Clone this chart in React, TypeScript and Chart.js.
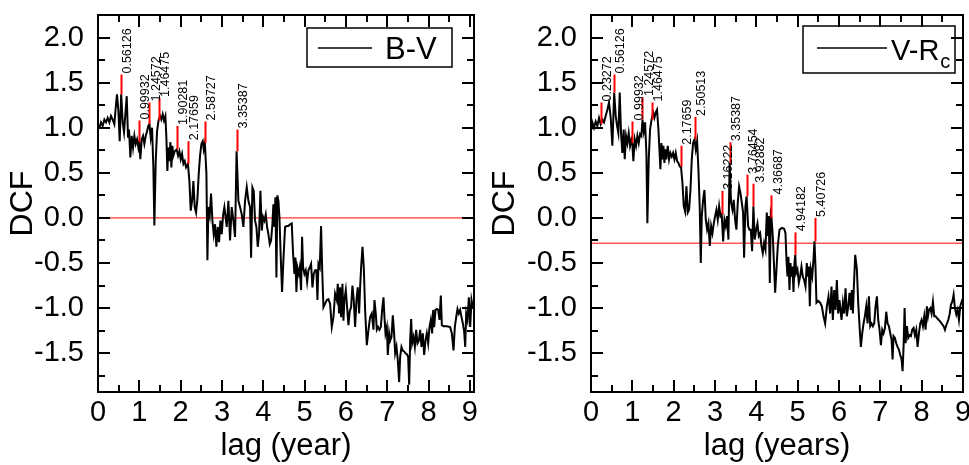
import React, { useEffect, useRef } from "react";
import { Chart, registerables } from "chart.js";
Chart.register(...registerables);

const FONT = "'Liberation Sans', Arial, Helvetica, sans-serif";

// ---------- Left panel: B-V ----------
const lagBV = [
  0.033, 0.073, 0.113, 0.154, 0.194, 0.234, 0.275, 0.315, 0.355, 0.396, 0.436, 0.46, 0.493, 0.525, 0.561, 0.598,
  0.63, 0.662, 0.695, 0.727, 0.751, 0.783, 0.816, 0.848, 0.88, 0.912, 0.945, 0.977, 0.999, 1.025, 1.058, 1.09,
  1.122, 1.155, 1.187, 1.219, 1.246, 1.276, 1.308, 1.34, 1.364, 1.397, 1.429, 1.465, 1.502, 1.534, 1.566, 1.598,
  1.631, 1.655, 1.679, 1.703, 1.728, 1.752, 1.776, 1.8, 1.824, 1.857, 1.903, 1.938, 1.97, 2.002, 2.034, 2.067,
  2.099, 2.131, 2.177, 2.212, 2.244, 2.277, 2.309, 2.341, 2.373, 2.406, 2.438, 2.47, 2.502, 2.535, 2.559, 2.587,
  2.624, 2.648, 2.672, 2.704, 2.736, 2.769, 2.801, 2.833, 2.865, 2.898, 2.93, 2.962, 2.995, 3.027, 3.059, 3.115,
  3.156, 3.196, 3.236, 3.277, 3.317, 3.354, 3.398, 3.438, 3.479, 3.519, 3.559, 3.6, 3.64, 3.68, 3.705, 3.737,
  3.769, 3.801, 3.834, 3.866, 3.898, 3.931, 3.963, 3.995, 4.027, 4.06, 4.092, 4.124, 4.157, 4.189, 4.221, 4.245,
  4.269, 4.294, 4.318, 4.342, 4.366, 4.391, 4.423, 4.455, 4.487, 4.528, 4.568, 4.608, 4.649, 4.689, 4.722, 4.754,
  4.778, 4.802, 4.826, 4.859, 4.883, 4.915, 4.939, 4.964, 4.996, 5.028, 5.061, 5.093, 5.125, 5.157, 5.19, 5.222,
  5.254, 5.286, 5.311, 5.335, 5.367, 5.399, 5.424, 5.456, 5.496, 5.537, 5.577, 5.617, 5.658, 5.698, 5.738, 5.779,
  5.803, 5.835, 5.86, 5.884, 5.916, 5.94, 5.964, 5.997, 6.029, 6.061, 6.094, 6.126, 6.158, 6.19, 6.223, 6.255,
  6.287, 6.32, 6.344, 6.368, 6.401, 6.433, 6.465, 6.506, 6.546, 6.586, 6.627, 6.667, 6.691, 6.723, 6.748, 6.78,
  6.812, 6.845, 6.877, 6.909, 6.933, 6.958, 6.99, 7.014, 7.046, 7.071, 7.103, 7.135, 7.167, 7.192, 7.224, 7.256,
  7.288, 7.313, 7.345, 7.377, 7.41, 7.442, 7.474, 7.506, 7.531, 7.555, 7.579, 7.603, 7.636, 7.668, 7.7, 7.732,
  7.765, 7.797, 7.829, 7.861, 7.894, 7.926, 7.958, 7.991, 8.023, 8.055, 8.087, 8.112, 8.136, 8.168, 8.2, 8.233,
  8.265, 8.297, 8.322, 8.362, 8.443, 8.523, 8.564, 8.604, 8.636, 8.669, 8.701, 8.733, 8.765, 8.798, 8.83, 8.862,
  8.887, 8.911, 8.943, 8.975, 9.008, 9.04, 9.072,
];
const dcfBV = [
  1.0, 1.06, 1.02, 1.09, 1.06, 1.11, 1.06, 1.13, 1.09, 1.04, 1.26, 1.37, 1.19, 0.85, 1.37, 1.06,
  0.95, 1.15, 1.35, 0.89, 0.98, 0.67, 0.91, 0.78, 0.91, 0.82, 0.87, 0.78, 0.84, 0.65, 0.87, 0.91,
  0.82, 0.91, 0.96, 1.02, 1.04, 0.89, 1.0, 0.56, -0.085, 0.63, 0.96, 1.08, 1.13, 1.09, 1.15, 1.08,
  1.13, 0.89, 0.52, 0.78, 0.63, 0.84, 0.56, 0.8, 0.69, 0.74, 0.76, 0.69, 0.74, 0.65, 0.71, 0.6,
  0.63, 0.56, 0.6, 0.41, 0.08, 0.19, 0.41, 0.12, 0.06, 0.21, 0.49, 0.69, 0.82, 0.85, 0.76, 0.83,
  0.49, -0.47, 0.12, 0.03, 0.27, -0.03, -0.18, -0.07, -0.32, -0.1, -0.27, -0.03, -0.18, 0.03, 0.12, -0.1,
  0.19, -0.25, 0.12, -0.03, -0.21, 0.74, 0.19, 0.12, 0.04, -0.1, 0.19, 0.34, 0.19, 0.12, -0.44, 0.34,
  0.3, -0.03, -0.1, -0.32, -0.18, 0.3, -0.14, 0.01, -0.03, 0.04, -0.1, -0.18, -0.29, -0.25, -0.07, 0.15,
  -0.1, 0.23, -0.66, 0.25, 0.19, 0.01, -0.44, -0.82, -0.47, -0.1, -0.09, -0.09, -0.07, -0.06, -0.4, -0.62,
  -0.44, -0.82, -0.55, -0.62, -0.55, -0.8, -0.21, -0.55, -0.62, -0.58, -0.71, -0.58, -0.55, -0.51, -0.77, -0.62,
  -0.58, -0.58, -0.91, -0.51, -0.55, -0.09, -0.55, -0.99, -0.95, -0.91, -0.9, -0.95, -1.21, -1.1, -0.84, -0.91,
  -0.73, -1.06, -0.77, -1.1, -0.73, -1.14, -0.91, -0.8, -0.99, -1.19, -1.03, -0.99, -0.75, -0.91, -1.21, -0.91,
  -0.77, -1.06, -0.77, -0.55, -0.32, -0.55, -1.02, -1.41, -1.24, -1.1, -1.06, -1.24, -0.91, -1.06, -1.24, -1.21,
  -1.24, -1.21, -1.02, -0.88, -1.1, -1.28, -1.21, -1.52, -1.28, -1.36, -1.32, -1.08, -1.28, -1.5, -1.43, -1.58,
  -1.82, -1.54, -1.43, -1.47, -1.48, -1.5, -1.51, -1.54, -1.85, -1.36, -1.12, -1.39, -1.32, -1.43, -1.24, -1.39,
  -1.36, -1.24, -1.43, -1.28, -1.52, -1.36, -1.28, -1.39, -1.21, -1.13, -1.28, -1.02, -1.21, -1.02, -1.01, -1.02,
  -1.13, -0.86, -1.19, -1.2, -1.2, -1.21, -1.28, -1.47, -1.21, -1.1, -1.01, -1.06, -1.02, -1.1, -1.17, -1.26,
  -1.43, -1.06, -1.13, -0.88, -1.21, -0.91, -0.99,
];
const peakLagBV = [0.56126, 0.99932, 1.24572, 1.46475, 1.90281, 2.17659, 2.58727, 3.35387];
const peakLowBV = [1.37, 0.84, 1.04, 1.08, 0.76, 0.6, 0.83, 0.74];
const peakHighBV = [1.59, 1.08, 1.28, 1.33, 1.02, 0.85, 1.07, 0.98];
const peakTextBV = ["0.56126", "0.99932", "1.24572", "1.46475", "1.90281", "2.17659", "2.58727", "3.35387"];
const refBV = 0;

// ---------- Right panel: V-Rc ----------
const lagVR = [
  0.01, 0.033, 0.073, 0.113, 0.154, 0.194, 0.234, 0.275, 0.315, 0.355, 0.396, 0.436, 0.477, 0.517, 0.561, 0.598,
  0.63, 0.662, 0.695, 0.727, 0.759, 0.791, 0.816, 0.848, 0.88, 0.912, 0.945, 0.977, 0.999, 1.025, 1.058, 1.09,
  1.122, 1.155, 1.187, 1.219, 1.246, 1.276, 1.308, 1.34, 1.364, 1.397, 1.429, 1.465, 1.502, 1.534, 1.566, 1.598,
  1.631, 1.655, 1.679, 1.703, 1.728, 1.752, 1.776, 1.8, 1.824, 1.857, 1.889, 1.921, 1.954, 1.986, 2.018, 2.05,
  2.083, 2.115, 2.147, 2.177, 2.212, 2.244, 2.277, 2.309, 2.341, 2.373, 2.406, 2.438, 2.47, 2.505, 2.535, 2.567,
  2.599, 2.632, 2.656, 2.68, 2.712, 2.745, 2.777, 2.809, 2.841, 2.874, 2.906, 2.938, 2.971, 3.003, 3.035, 3.067,
  3.1, 3.132, 3.162, 3.197, 3.228, 3.26, 3.292, 3.325, 3.354, 3.389, 3.422, 3.454, 3.486, 3.518, 3.551, 3.583,
  3.615, 3.648, 3.68, 3.704, 3.736, 3.765, 3.801, 3.833, 3.866, 3.898, 3.929, 3.962, 3.995, 4.027, 4.059, 4.092,
  4.124, 4.156, 4.188, 4.221, 4.253, 4.277, 4.301, 4.326, 4.35, 4.367, 4.398, 4.422, 4.455, 4.487, 4.519, 4.56,
  4.616, 4.673, 4.705, 4.729, 4.753, 4.777, 4.802, 4.826, 4.85, 4.874, 4.899, 4.923, 4.942, 4.963, 4.995, 5.028,
  5.06, 5.092, 5.125, 5.157, 5.189, 5.221, 5.246, 5.27, 5.294, 5.318, 5.351, 5.383, 5.407, 5.431, 5.455, 5.496,
  5.544, 5.585, 5.625, 5.665, 5.706, 5.746, 5.786, 5.819, 5.851, 5.883, 5.916, 5.948, 5.98, 6.012, 6.061, 6.094,
  6.126, 6.158, 6.19, 6.223, 6.255, 6.287, 6.311, 6.336, 6.36, 6.392, 6.433, 6.465, 6.497, 6.529, 6.562, 6.594,
  6.626, 6.659, 6.691, 6.723, 6.755, 6.788, 6.82, 6.852, 6.884, 6.917, 6.949, 6.981, 7.014, 7.046, 7.078, 7.111,
  7.143, 7.175, 7.207, 7.24, 7.272, 7.296, 7.32, 7.353, 7.385, 7.417, 7.449, 7.482, 7.514, 7.538, 7.562, 7.587,
  7.611, 7.643, 7.675, 7.708, 7.74, 7.772, 7.805, 7.837, 7.869, 7.901, 7.934, 7.966, 7.998, 8.031, 8.063, 8.095,
  8.127, 8.152, 8.176, 8.208, 8.24, 8.273, 8.305, 8.337, 8.37, 8.45, 8.531, 8.563, 8.596, 8.644, 8.676, 8.709,
  8.741, 8.773, 8.805, 8.838, 8.87, 8.902, 8.934, 8.967, 8.999,
];
const dcfVR = [
  0.98, 1.06, 1.0, 1.07, 1.02, 1.11, 1.04, 1.09, 1.06, 1.13, 1.2, 1.28, 1.11, 0.8, 1.39, 1.13,
  1.02, 0.94, 1.39, 0.94, 0.72, 0.98, 0.65, 0.91, 0.83, 0.94, 0.8, 0.87, 0.83, 0.63, 0.87, 0.8,
  0.91, 0.83, 0.93, 0.91, 1.09, 0.96, 1.06, 0.72, -0.06, 0.65, 0.98, 1.09, 1.17, 1.11, 1.17, 1.2,
  0.98, 0.76, 0.54, 0.83, 0.65, 0.8, 0.61, 0.76, 0.65, 0.8, 0.65, 0.72, 0.68, 0.72, 0.65, 0.72,
  0.63, 0.61, 0.57, 0.57, 0.39, 0.13, 0.07, 0.35, 0.06, 0.09, 0.31, 0.65, 0.83, 0.87, 0.76, 0.85,
  0.54, 0.09, -0.5, 0.02, 0.2, 0.31, -0.02, -0.13, -0.06, -0.31, -0.09, -0.17, -0.06, 0.02, 0.09, -0.02,
  0.13, 0.02, 0.04, -0.26, -0.02, -0.09, 0.02, -0.24, 0.61, 0.17, 0.09, 0.2, -0.02, -0.13, 0.17, 0.35,
  0.28, 0.17, 0.06, -0.44, 0.13, 0.24, -0.09, -0.13, -0.13, -0.37, 0.13, -0.24, -0.13, -0.06, -0.2, -0.17,
  -0.31, -0.39, -0.28, -0.35, 0.06, -0.2, 0.02, -0.72, 0.04, 0.0, -0.2, -0.46, -0.83, -0.57, -0.31, -0.13,
  -0.11, -0.12, -0.17, -0.46, -0.65, -0.43, -0.8, -0.5, -0.65, -0.54, -0.82, -0.5, -0.41, -0.61, -0.57, -0.72,
  -0.65, -0.54, -0.65, -0.69, -0.76, -0.5, -0.65, -0.54, -0.98, -0.57, -0.65, -0.46, -0.26, -0.54, -0.94, -0.92,
  -0.94, -0.98, -1.09, -1.17, -0.98, -0.87, -1.06, -0.76, -1.13, -0.8, -1.02, -0.69, -1.06, -0.91, -1.13, -0.94,
  -1.06, -0.78, -1.09, -0.98, -0.83, -1.02, -0.8, -1.06, -0.76, -0.41, -0.57, -0.94, -1.2, -1.43, -1.28, -1.17,
  -1.09, -0.98, -1.17, -0.87, -1.2, -1.17, -1.2, -1.17, -0.98, -0.87, -1.13, -1.24, -1.41, -1.24, -1.28, -1.22,
  -1.04, -1.17, -1.2, -1.28, -1.35, -1.57, -1.31, -1.33, -1.39, -1.43, -1.46, -1.52, -1.57, -1.7, -1.43, -1.0,
  -1.39, -1.2, -1.33, -1.3, -1.31, -1.24, -1.22, -1.3, -1.24, -1.43, -1.28, -1.17, -1.13, -1.2, -1.09, -1.24,
  -0.98, -1.09, -1.02, -1.0, -1.06, -0.93, -1.09, -1.09, -1.11, -1.15, -1.2, -1.24, -1.19, -1.13, -1.07, -0.96,
  -0.93, -0.85, -1.0, -1.07, -1.02, -1.13, -0.98, -0.93, -0.89,
];
const peakLagVR = [0.23272, 0.56126, 0.99932, 1.24572, 1.46475, 2.17659, 2.50513, 3.16222, 3.35387, 3.76454, 3.92882, 4.36687, 4.94182, 5.40726];
const peakLowVR = [1.04, 1.39, 0.83, 1.09, 1.09, 0.57, 0.87, 0.04, 0.61, 0.24, 0.13, 0.0, -0.41, -0.26];
const peakHighVR = [1.28, 1.59, 1.07, 1.34, 1.28, 0.8, 1.12, 0.3, 0.84, 0.48, 0.38, 0.25, -0.16, 0.0];
const peakTextVR = ["0.23272", "0.56126", "0.99932", "1.24572", "1.46475", "2.17659", "2.50513", "3.16222", "3.35387", "3.76454", "3.92882", "4.36687", "4.94182", "5.40726"];
const refVR = -0.28;

// ---------- Axes ----------
const xTickValues = [0, 1, 2, 3, 4, 5, 6, 7, 8, 9];
const yTickValues = [-1.5, -1.0, -0.5, 0.0, 0.5, 1.0, 1.5, 2.0];
const Y_MIN = -1.93;
const Y_MAX = 2.25;

const decorPlugin = {
  id: "decor",
  afterDatasetsDraw(chart: any, _args: any, o: any) {
    const { ctx, chartArea: a, scales } = chart;
    const x = scales.x;
    const y = scales.y;
    ctx.save();
    // peak error segments
    ctx.strokeStyle = "#ff0000";
    ctx.lineWidth = 2;
    o.lags.forEach((L: number, i: number) => {
      const px = Math.round(x.getPixelForValue(L)) + 0.5;
      ctx.beginPath();
      ctx.moveTo(px, y.getPixelForValue(o.low[i]));
      ctx.lineTo(px, y.getPixelForValue(o.high[i]));
      ctx.stroke();
    });
    // peak labels
    ctx.fillStyle = "#000";
    ctx.font = `12.5px ${FONT}`;
    ctx.textAlign = "left";
    ctx.textBaseline = "top";
    o.lags.forEach((L: number, i: number) => {
      const px = x.getPixelForValue(L);
      const py = y.getPixelForValue(o.high[i]);
      ctx.save();
      ctx.translate(px + 0.5, py - 1);
      ctx.rotate(-Math.PI / 2);
      ctx.fillText(o.texts[i], 0, 0);
      ctx.restore();
    });
    // frame
    ctx.strokeStyle = "#000";
    ctx.lineWidth = 2;
    ctx.strokeRect(a.left, a.top, a.right - a.left, a.bottom - a.top);
    // ticks
    const xmax = x.max;
    ctx.beginPath();
    for (let v = 0; v <= xmax + 1e-6; v += 0.5) {
      const px = Math.round(x.getPixelForValue(v));
      const len = Math.abs(v - Math.round(v)) < 1e-6 ? 12 : 7;
      ctx.moveTo(px, a.bottom);
      ctx.lineTo(px, a.bottom - len);
      ctx.moveTo(px, a.top);
      ctx.lineTo(px, a.top + len);
    }
    for (let k = -8; k <= 8; k++) {
      const v = k * 0.25;
      if (v <= Y_MIN || v >= Y_MAX) continue;
      const py = Math.round(y.getPixelForValue(v));
      const len = k % 2 === 0 ? 12 : 7;
      ctx.moveTo(a.left, py);
      ctx.lineTo(a.left + len, py);
      ctx.moveTo(a.right, py);
      ctx.lineTo(a.right - len, py);
    }
    ctx.stroke();
    // legend
    const lg = o.legend;
    ctx.lineWidth = 1.5;
    ctx.strokeRect(lg.box[0], lg.box[1], lg.box[2] - lg.box[0], lg.box[3] - lg.box[1]);
    ctx.beginPath();
    ctx.lineWidth = 1.6;
    ctx.moveTo(lg.line[0], lg.line[2]);
    ctx.lineTo(lg.line[1], lg.line[2]);
    ctx.stroke();
    ctx.textBaseline = "alphabetic";
    ctx.textAlign = "left";
    ctx.font = `${lg.size}px ${FONT}`;
    ctx.fillText(lg.text, lg.tx, lg.ty);
    if (lg.sub) {
      const w = ctx.measureText(lg.text).width;
      ctx.font = `${lg.subSize}px ${FONT}`;
      ctx.fillText(lg.sub, lg.tx + w + 1, lg.ty + 8);
    }
    ctx.restore();
  },
};

type PanelCfg = {
  lags: number[];
  dcf: number[];
  ref: number;
  xMax: number;
  xTitle: string;
  yWidth: number;
  padRight: number;
  titlePad: number;
  decor: any;
};

function Panel({ cfg, left, width }: { cfg: PanelCfg; left: number; width: number }) {
  const ref = useRef<HTMLCanvasElement | null>(null);
  useEffect(() => {
    if (!ref.current) return;
    const pts = cfg.lags.map((x, i) => ({ x, y: cfg.dcf[i] }));
    const chart = new Chart(ref.current, {
      type: "line",
      data: {
        datasets: [
          {
            data: pts,
            borderColor: "#000",
            borderWidth: 2,
            pointRadius: 0,
            tension: 0,
            order: 1,
          },
          {
            data: [
              { x: 0, y: cfg.ref },
              { x: cfg.xMax, y: cfg.ref },
            ],
            borderColor: "#ff0000",
            borderWidth: 1,
            pointRadius: 0,
            order: 2,
          },
        ],
      },
      options: {
        animation: false,
        responsive: false,
        maintainAspectRatio: false,
        events: [],
        layout: { padding: { top: 15, right: cfg.padRight, left: 0, bottom: 0 } },
        plugins: {
          legend: { display: false },
          tooltip: { enabled: false },
          decor: cfg.decor,
        } as any,
        scales: {
          x: {
            type: "linear",
            min: 0,
            max: cfg.xMax,
            afterBuildTicks: (s: any) => {
              s.ticks = xTickValues.map((v) => ({ value: v }));
            },
            afterFit: (s: any) => {
              s.height = 73;
              s.paddingLeft = 0;
              s.paddingRight = 0;
            },
            grid: { display: false, drawTicks: false },
            border: { display: false },
            ticks: {
              font: { family: FONT, size: 29 },
              color: "#000",
              padding: 4,
              maxRotation: 0,
              autoSkip: false,
              callback: (v: any) => String(v),
            },
            title: {
              display: true,
              text: cfg.xTitle,
              font: { family: FONT, size: 31 },
              color: "#000",
              padding: { top: 0, bottom: 0 },
            },
          },
          y: {
            type: "linear",
            min: Y_MIN,
            max: Y_MAX,
            afterBuildTicks: (s: any) => {
              s.ticks = yTickValues.map((v) => ({ value: v }));
            },
            afterFit: (s: any) => {
              s.width = cfg.yWidth;
              s.paddingTop = 0;
              s.paddingBottom = 0;
            },
            grid: { display: false, drawTicks: false },
            border: { display: false },
            ticks: {
              font: { family: FONT, size: 29 },
              color: "#000",
              padding: 14,
              autoSkip: false,
              callback: (v: any) => Number(v).toFixed(1),
            },
            title: {
              display: true,
              text: "DCF",
              font: { family: FONT, size: 32 },
              color: "#000",
              padding: { top: cfg.titlePad, bottom: 0 },
            },
          },
        },
      },
      plugins: [decorPlugin],
    } as any);
    return () => chart.destroy();
  }, [cfg]);
  return (
    <canvas
      ref={ref}
      width={width}
      height={465}
      style={{ position: "absolute", left, top: 0, width, height: 465 }}
    />
  );
}

const leftCfg: PanelCfg = {
  lags: lagBV,
  dcf: dcfBV,
  ref: refBV,
  xMax: 9.1,
  xTitle: "lag (year)",
  yWidth: 98,
  padRight: 10,
  titlePad: 4,
  decor: {
    lags: peakLagBV,
    low: peakLowBV,
    high: peakHighBV,
    texts: peakTextBV,
    legend: { box: [307, 28, 452, 67], line: [318, 372, 48], text: "B-V", tx: 385, ty: 59, size: 31 },
  },
};

const rightCfg: PanelCfg = {
  lags: lagVR,
  dcf: dcfVR,
  ref: refVR,
  xMax: 9.0,
  xTitle: "lag (years)",
  yWidth: 107,
  padRight: 6,
  titlePad: 2,
  decor: {
    lags: peakLagVR,
    low: peakLowVR,
    high: peakHighVR,
    texts: peakTextVR,
    legend: { box: [319, 26, 471, 73], line: [333, 403, 48], text: "V-R", sub: "c", tx: 407, ty: 60, size: 29, subSize: 20 },
  },
};

export default function App() {
  return (
    <div style={{ position: "absolute", left: 0, top: 0, width: 969, height: 465, background: "#fff", overflow: "hidden" }}>
      <Panel cfg={leftCfg} left={0} width={484} />
      <Panel cfg={rightCfg} left={484} width={485} />
    </div>
  );
}
